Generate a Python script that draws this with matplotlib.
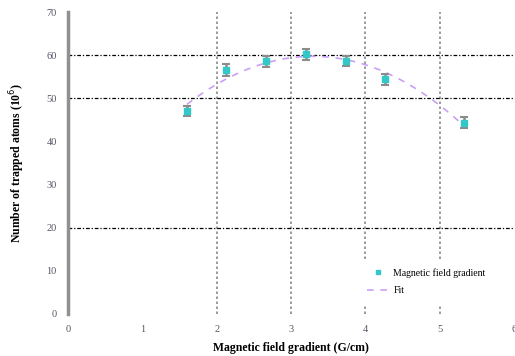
import numpy as np
import matplotlib
matplotlib.use('Agg')
import matplotlib.pyplot as plt
from matplotlib.lines import Line2D

# data
grad = [1.6, 2.13, 2.67, 3.2, 3.74, 4.26, 5.33]
atoms = [47.0, 56.5, 58.6, 60.2, 58.6, 54.4, 44.4]
err = [1.2, 1.4, 1.3, 1.3, 1.2, 1.2, 1.2]

xticks = [0, 1, 2, 3, 4, 5, 6]
yticks = [0, 10, 20, 30, 40, 50, 60, 70]

plt.rcParams['font.family'] = ['Liberation Serif', 'DejaVu Serif']

fig = plt.figure(figsize=(5.15, 3.56), dpi=100)
ax = fig.add_axes([0.132, 0.118, 0.866, 0.848])

# fit (quadratic)
coef = np.polyfit(grad, atoms, 2)
xf = np.linspace(min(grad), max(grad), 100)
ax.plot(xf, np.polyval(coef, xf), ls=(0, (4, 4)), color='#c9a0f5', lw=1.2, zorder=3)

eb = ax.errorbar(grad, atoms, yerr=err, fmt='s', color='#33c8c8', ms=4.5, mec='#33c8c8',
                 ecolor='#8c8c8c', elinewidth=1.8, capsize=3, capthick=1.5, zorder=4)
for cl in eb[1]:
    cl.set_color('black')

# grid lines
for gx in [2, 3, 4, 5]:
    ax.axvline(gx, color='#8a8a8a', ls=(0, (1.5, 1.5)), lw=1.2, zorder=1)
for gy in [20, 50, 60]:
    ax.axhline(gy, color='black', ls=(0, (3, 1.5, 1, 1.5)), lw=0.9, zorder=1)

ax.set_xlim(0, 6)
ax.set_ylim(0, 70)
ax.set_xticks(xticks)
ax.set_yticks(yticks)
ax.tick_params(length=0, labelsize=7.5, colors='#555566', pad=8)

for s in ['top', 'right', 'bottom']:
    ax.spines[s].set_visible(False)
ax.spines['left'].set_color('#909090')
ax.spines['left'].set_linewidth(2.5)

ax.set_xlabel('Magnetic field gradient (G/cm)', fontsize=8.5, fontweight='bold', labelpad=6)
ax.set_ylabel('Number of trapped atoms (10$^6$)', fontsize=8.5, fontweight='bold', labelpad=14)

handles = [Line2D([], [], ls='none', marker='s', ms=3.5, color='#33c8c8'),
           Line2D([], [], ls=(0, (4, 4)), lw=1.2, color='#c9a0f5')]
leg = ax.legend(handles, ['Magnetic field gradient', 'Fit'], loc='lower right',
                bbox_to_anchor=(0.965, 0.02), frameon=True, fontsize=7,
                handlelength=2.2, handletextpad=0.5, labelspacing=0.9, borderpad=0.8)
leg.get_frame().set_edgecolor('white')
leg.get_frame().set_alpha(1)

fig.savefig('out.png', dpi=100)
